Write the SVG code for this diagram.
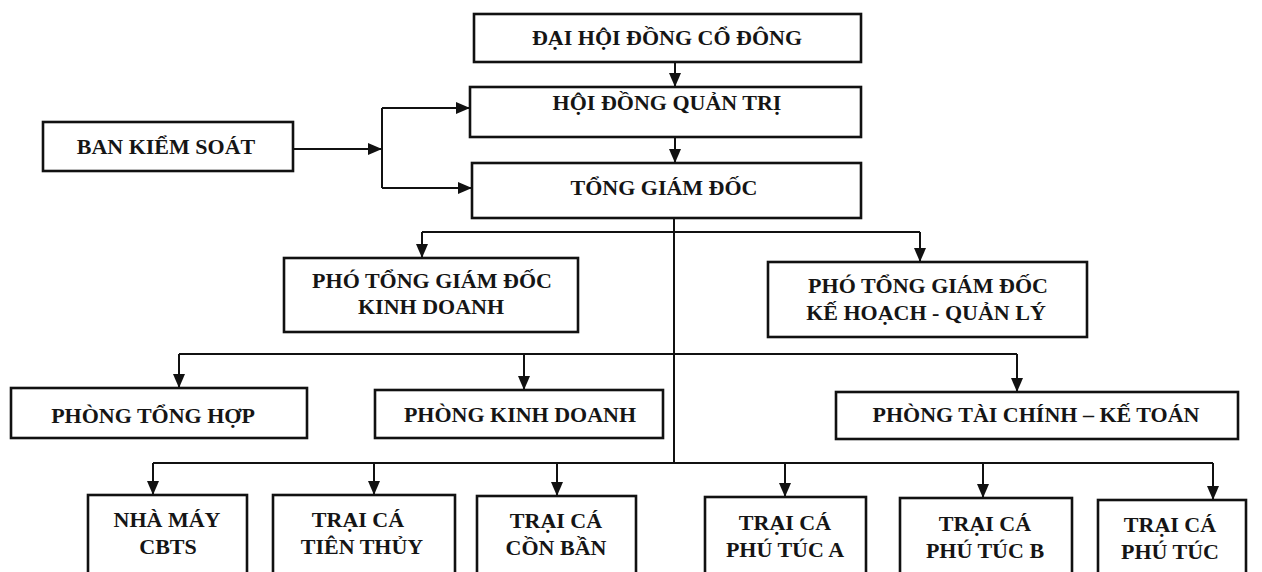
<svg xmlns="http://www.w3.org/2000/svg" width="1262" height="572" viewBox="0 0 1262 572">
  <style>
    .box { fill: #ffffff; stroke: #111111; stroke-width: 2.6; }
    .lbl { font-family: "Liberation Serif", "Times New Roman", serif; font-weight: bold; font-size: 22px; fill: #151515; text-anchor: middle; }
    .ln { fill: none; stroke: #111111; stroke-width: 2; }
    .ar { fill: none; stroke: #111111; stroke-width: 2; marker-end: url(#arrow); }
  </style>
  <defs>
    <marker id="arrow" markerUnits="userSpaceOnUse" markerWidth="14" markerHeight="12" refX="14" refY="6" orient="auto">
      <path d="M0,0 L14,6 L0,12 z" fill="#111111"/>
    </marker>
  </defs>
  <rect x="0" y="0" width="1262" height="572" fill="#ffffff"/>

  <g id="connectors">
    <path class="ar" d="M675,62 V87"/>
    <path class="ar" d="M675,137 V163"/>
    <path class="ar" d="M293,149 H382"/>
    <path class="ln" d="M382,108 V188"/>
    <path class="ar" d="M382,108 H470"/>
    <path class="ar" d="M382,188 H472"/>
    <path class="ln" d="M674,218 V463"/>
    <path class="ln" d="M422,232 H920"/>
    <path class="ar" d="M422,232 V258"/>
    <path class="ar" d="M920,232 V262"/>
    <path class="ln" d="M179,354 H1017"/>
    <path class="ar" d="M179,354 V388"/>
    <path class="ar" d="M524,354 V390"/>
    <path class="ar" d="M1017,354 V392"/>
    <path class="ln" d="M153,463 H1213"/>
    <path class="ar" d="M153,463 V495"/>
    <path class="ar" d="M374,463 V495"/>
    <path class="ar" d="M557,463 V496"/>
    <path class="ar" d="M785,463 V497"/>
    <path class="ar" d="M983,463 V498"/>
    <path class="ar" d="M1213,463 V500"/>
  </g>

  <g id="dai-hoi-dong-co-dong">
    <rect class="box" x="474" y="14" width="387" height="48"/>
    <text class="lbl" x="667" y="45">ĐẠI HỘI ĐỒNG CỔ ĐÔNG</text>
  </g>
  <g id="hoi-dong-quan-tri">
    <rect class="box" x="470" y="87" width="391" height="50"/>
    <text class="lbl" x="667" y="110">HỘI ĐỒNG QUẢN TRỊ</text>
  </g>
  <g id="ban-kiem-soat">
    <rect class="box" x="43" y="122" width="250" height="49"/>
    <text class="lbl" x="166" y="154">BAN KIỂM SOÁT</text>
  </g>
  <g id="tong-giam-doc">
    <rect class="box" x="472" y="163" width="389" height="55"/>
    <text class="lbl" x="664" y="195">TỔNG GIÁM ĐỐC</text>
  </g>
  <g id="pho-tgd-kinh-doanh">
    <rect class="box" x="284" y="258" width="294" height="74"/>
    <text class="lbl" x="432" y="288">PHÓ TỔNG GIÁM ĐỐC</text>
    <text class="lbl" x="431" y="314">KINH DOANH</text>
  </g>
  <g id="pho-tgd-ke-hoach">
    <rect class="box" x="768" y="262" width="319" height="75"/>
    <text class="lbl" x="928" y="293">PHÓ TỔNG GIÁM ĐỐC</text>
    <text class="lbl" x="926" y="320">KẾ HOẠCH - QUẢN LÝ</text>
  </g>
  <g id="phong-tong-hop">
    <rect class="box" x="11" y="388" width="296" height="50"/>
    <text class="lbl" x="153" y="423">PHÒNG TỔNG HỢP</text>
  </g>
  <g id="phong-kinh-doanh">
    <rect class="box" x="375" y="390" width="288" height="48"/>
    <text class="lbl" x="520" y="422">PHÒNG KINH DOANH</text>
  </g>
  <g id="phong-tai-chinh">
    <rect class="box" x="836" y="392" width="402" height="47"/>
    <text class="lbl" x="1036" y="422">PHÒNG TÀI CHÍNH – KẾ TOÁN</text>
  </g>
  <g id="nha-may-cbts">
    <rect class="box" x="88" y="495" width="159" height="90"/>
    <text class="lbl" x="167" y="527">NHÀ MÁY</text>
    <text class="lbl" x="168" y="554">CBTS</text>
  </g>
  <g id="trai-ca-tien-thuy">
    <rect class="box" x="273" y="495" width="182" height="90"/>
    <text class="lbl" x="358" y="527">TRẠI CÁ</text>
    <text class="lbl" x="362" y="554">TIÊN THỦY</text>
  </g>
  <g id="trai-ca-con-ban">
    <rect class="box" x="477" y="496" width="159" height="90"/>
    <text class="lbl" x="556" y="528">TRẠI CÁ</text>
    <text class="lbl" x="556" y="555">CỒN BẦN</text>
  </g>
  <g id="trai-ca-phu-tuc-a">
    <rect class="box" x="705" y="497" width="161" height="90"/>
    <text class="lbl" x="785" y="530">TRẠI CÁ</text>
    <text class="lbl" x="785" y="557">PHÚ TÚC A</text>
  </g>
  <g id="trai-ca-phu-tuc-b">
    <rect class="box" x="900" y="498" width="172" height="90"/>
    <text class="lbl" x="985" y="531">TRẠI CÁ</text>
    <text class="lbl" x="985" y="558">PHÚ TÚC B</text>
  </g>
  <g id="trai-ca-phu-tuc">
    <rect class="box" x="1098" y="500" width="148" height="90"/>
    <text class="lbl" x="1170" y="532">TRẠI CÁ</text>
    <text class="lbl" x="1170" y="559">PHÚ TÚC</text>
  </g>
</svg>
